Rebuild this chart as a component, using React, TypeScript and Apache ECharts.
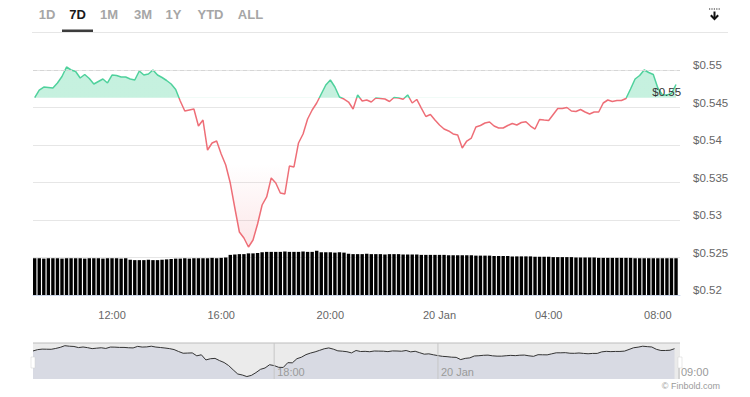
import React, { useEffect, useRef } from 'react';
import * as echarts from 'echarts';

// ---------- data ----------
const START = Date.UTC(2025, 0, 19, 9, 10); // first point, 19 Jan 09:10
const STEP_MIN = 10;

const prices = [
  0.54631, 0.54733, 0.54773, 0.54767, 0.5476, 0.54827, 0.54913, 0.5504, 0.55, 0.5498,
  0.54893, 0.5494, 0.54887, 0.54813, 0.54847, 0.5488, 0.54827, 0.54933, 0.54927, 0.54907,
  0.54907, 0.5488, 0.54867, 0.54987, 0.54933, 0.54947, 0.55, 0.54933, 0.549, 0.5486,
  0.54813, 0.5474, 0.54587, 0.54453, 0.54467, 0.5448, 0.54253, 0.54333, 0.53933, 0.54027,
  0.54053, 0.5388, 0.53733, 0.53493, 0.5316, 0.5284, 0.5276, 0.5264, 0.52733, 0.52947,
  0.532, 0.53307, 0.5356, 0.53493, 0.5336, 0.53347, 0.5372, 0.53707, 0.54027, 0.54147,
  0.54347, 0.54467, 0.5456, 0.5468, 0.548, 0.54867, 0.54773, 0.5464, 0.54613, 0.54573,
  0.5448, 0.54667, 0.54587, 0.546, 0.54573, 0.54627, 0.5462, 0.54613, 0.5458, 0.54633,
  0.54627, 0.54609, 0.54667, 0.5456, 0.54607, 0.54493, 0.5438, 0.54407, 0.54333, 0.54267,
  0.54213, 0.54187, 0.54147, 0.54133, 0.5396, 0.54053, 0.54093, 0.5424, 0.5426, 0.54293,
  0.54307, 0.54253, 0.54227, 0.54227, 0.5426, 0.54287, 0.54267, 0.543, 0.54311, 0.54253,
  0.54213, 0.5434, 0.54333, 0.54327, 0.54407, 0.54487, 0.54487, 0.545, 0.54453, 0.54447,
  0.54473, 0.5444, 0.54413, 0.5444, 0.5444, 0.5456, 0.546, 0.5458, 0.54593, 0.54593,
  0.5462, 0.54747, 0.5488, 0.54927, 0.55, 0.54967, 0.5494, 0.5476, 0.54667, 0.54667,
  0.54687, 0.54807,
];

const volumes = [
  98, 98, 97, 98, 98, 98, 97, 98, 98, 98, 98, 97, 98, 98, 98, 97, 98, 98, 98, 97, 98,
  94, 93, 93, 93, 94, 93, 93, 94, 95,
  96, 97, 97, 98, 97, 98, 98,
  98, 98, 99, 98, 99, 100,
  107, 108, 109, 109,
  111, 111, 112,
  114, 115, 115, 115, 115, 116, 115, 115,
  115, 116, 115, 115,
  118,
  114, 114, 114, 113, 114, 113,
  110, 109, 109, 109, 110, 109, 109, 109, 108, 109, 109, 109,
  108, 108, 108, 108, 107, 107, 107, 107, 107, 107, 106, 106, 106, 106, 106, 106, 105, 105, 105, 105,
  104, 104, 104, 104, 103, 103, 103, 103, 103, 102, 102, 102, 102, 101, 101, 101, 101, 101, 100, 100,
  100, 100, 100, 99, 99, 99, 99, 99, 99, 99, 99, 98, 98, 98, 98, 98, 98, 98, 98, 98, 98,
];

const baseline = 0.5463; // previous close threshold
const tabs = ['1D', '7D', '1M', '3M', '1Y', 'YTD', 'ALL'];
const selectedTab = '7D';
const navLabels = [
  { time: Date.UTC(2025, 0, 19, 18, 0), text: '18:00' },
  { time: Date.UTC(2025, 0, 20, 0, 0), text: '20 Jan' },
];
const navEndLabel = '09:00';
const copyright = '© Finbold.com';

// ---------- layout / style ----------
const FONT = '"Liberation Sans", Arial, Helvetica, sans-serif';
const GREEN = '#4fd19c';
const RED = '#ee6e77';
const tabCenters = [47, 77.5, 109, 143, 173.5, 210.5, 250.5];

export default function App() {
  const ref = useRef<HTMLDivElement>(null);

  useEffect(() => {
    const chart = echarts.init(ref.current!, null, { renderer: 'svg' });
    const MIN = 60000;
    const H = 3600000;
    const times = prices.map((_, i) => START + i * STEP_MIN * MIN);
    const priceData = times.map((t, i) => [t, prices[i]]);
    const volData = times.map((t, i) => [t, volumes[i]]);

    const mainMin = START;
    const mainMax = START + 1415 * MIN;
    const navMin = START;
    const navMax = START + 1422 * MIN;

    const yMin = 0.52;
    const yMax = 0.555;
    const gridTop = 32.5;
    const gridH = 262.5;
    const baseFrac = (yMax - baseline) / (yMax - yMin);
    const fadeFrac = (yMax - 0.5375) / (yMax - yMin);

    const areaGrad = new echarts.graphic.LinearGradient(
      0, gridTop, 0, gridTop + gridH,
      [
        { offset: 0, color: 'rgba(82,212,158,0.33)' },
        { offset: baseFrac, color: 'rgba(82,212,158,0.33)' },
        { offset: baseFrac, color: 'rgba(238,110,119,0)' },
        { offset: fadeFrac, color: 'rgba(238,110,119,0)' },
        { offset: 1, color: 'rgba(238,110,119,0.26)' },
      ],
      true
    );

    const pad = (n: number) => (n < 10 ? '0' + n : '' + n);
    const months = ['Jan', 'Feb', 'Mar', 'Apr', 'May', 'Jun', 'Jul', 'Aug', 'Sep', 'Oct', 'Nov', 'Dec'];
    const fmtTime = (v: number) => {
      const d = new Date(v);
      const h = d.getUTCHours();
      if (h === 0 && d.getUTCMinutes() === 0) return d.getUTCDate() + ' ' + months[d.getUTCMonth()];
      return pad(h) + ':' + pad(d.getUTCMinutes());
    };

    chart.setOption({
      animation: false,
      useUTC: true,
      textStyle: { fontFamily: FONT },
      grid: [
        { left: 33, right: 70, top: gridTop, height: gridH, outerBoundsMode: 'none' },
        {
          left: 33, right: 70, top: 343, height: 36, show: true,
          backgroundColor: '#ebebeb', borderWidth: 0, outerBoundsMode: 'none',
        },
      ],
      xAxis: [
        {
          type: 'time', gridIndex: 0, min: mainMin, max: mainMax,
          minInterval: 4 * H, maxInterval: 4 * H,
          axisLine: { show: true, lineStyle: { color: '#ccd6eb' } },
          axisTick: { show: false },
          splitLine: { show: false },
          axisLabel: { color: '#666', fontSize: 11, margin: 14, formatter: fmtTime, hideOverlap: false },
        },
        { type: 'time', gridIndex: 1, min: navMin, max: navMax, show: false },
      ],
      yAxis: [
        {
          type: 'value', gridIndex: 0, position: 'right', min: yMin, max: yMax, interval: 0.005,
          axisLine: { show: false }, axisTick: { show: false },
          splitLine: { lineStyle: { color: '#e6e6e6' } },
          axisLabel: {
            showMaxLabel: false, margin: 13, color: '#666', fontSize: 11.5,
            verticalAlign: 'bottom', lineHeight: 10,
            formatter: (v: number) => '$' + parseFloat(v.toFixed(3)),
          },
        },
        { type: 'value', gridIndex: 0, min: 0, max: 700, show: false },
        { type: 'value', gridIndex: 1, min: 0.5245, max: 0.5525, show: false },
      ],
      visualMap: {
        type: 'piecewise', show: false, seriesIndex: 1, dimension: 1,
        pieces: [
          { gte: 0, lte: baseline, color: RED },
          { gt: baseline, lte: 1, color: GREEN },
        ],
        outOfRange: { color: RED },
      },
      series: [
        {
          type: 'bar', xAxisIndex: 0, yAxisIndex: 1, data: volData,
          barWidth: 3.4, itemStyle: { color: '#000' }, z: 1, silent: true,
        },
        {
          type: 'line', xAxisIndex: 0, yAxisIndex: 0, data: priceData,
          showSymbol: false, z: 3,
          lineStyle: { width: 1.5 },
          areaStyle: { origin: baseline, color: areaGrad, opacity: 1 },
          markLine: {
            silent: true, symbol: 'none', label: { show: false },
            lineStyle: { type: [4, 3], color: '#d6d6d6', width: 1 },
            data: [{ yAxis: baseline }],
          },
          endLabel: {
            show: true,
            formatter: (p: any) => '$' + p.value[1].toFixed(2),
            color: '#333', fontSize: 11.5, align: 'right', distance: 5, offset: [0, 8],
          },
        },
        {
          type: 'line', xAxisIndex: 1, yAxisIndex: 2, data: priceData,
          showSymbol: false, silent: true,
          lineStyle: { color: '#333', width: 1 }, itemStyle: { color: '#333' },
          areaStyle: { color: '#d8dae3', opacity: 1, origin: 'start' },
        },
      ],
    });

    // decorations positioned through the library's scales
    const navL = chart.convertToPixel({ xAxisIndex: 1 }, navMin) as number;
    const navR = chart.convertToPixel({ xAxisIndex: 1 }, navMax) as number;
    const navT = 343;
    const navB = 379;
    const g: any[] = [];

    // tabs
    tabs.forEach((t, i) => {
      const sel = t === selectedTab;
      g.push({
        type: 'text', z: 10,
        style: {
          text: t, x: tabCenters[i], y: 14.5, align: 'center', verticalAlign: 'middle',
          fill: sel ? '#1a1a1a' : '#a6a6a6', font: 'bold 13px ' + FONT,
        },
      });
      if (sel) {
        g.push({ type: 'rect', z: 10, shape: { x: tabCenters[i] - 15.5, y: 29.5, width: 31, height: 2.5 }, style: { fill: '#3c3c3c' } });
      }
    });
    g.push({ type: 'line', z: 9, shape: { x1: 32, y1: 32.5, x2: 728, y2: 32.5 }, style: { stroke: '#e6e6e6', lineWidth: 1 } });

    // download icon
    g.push({ type: 'line', z: 10, shape: { x1: 709, y1: 9, x2: 720, y2: 9 }, style: { stroke: '#222', lineWidth: 1.2, lineDash: [1.2, 1.2] } });
    g.push({ type: 'line', z: 10, shape: { x1: 714.5, y1: 11.5, x2: 714.5, y2: 19 }, style: { stroke: '#111', lineWidth: 2 } });
    g.push({ type: 'polyline', z: 10, shape: { points: [[710.8, 15.2], [714.5, 19], [718.2, 15.2]] }, style: { stroke: '#111', lineWidth: 2, fill: 'none' } });

    // navigator
    g.push({ type: 'line', z: 10, shape: { x1: navL, y1: navT, x2: navR, y2: navT }, style: { stroke: '#bdbdbd', lineWidth: 1 } });
    navLabels.forEach((l) => {
      const x = chart.convertToPixel({ xAxisIndex: 1 }, l.time) as number;
      g.push({ type: 'line', z: 10, shape: { x1: x, y1: navT, x2: x, y2: navB }, style: { stroke: '#c6c6c6', lineWidth: 1 } });
      g.push({
        type: 'text', z: 10,
        style: { text: l.text, x: x + 3, y: 372, align: 'left', verticalAlign: 'middle', fill: '#9a9a9a', font: '11px ' + FONT },
      });
    });
    g.push({ type: 'line', z: 10, shape: { x1: navR - 1, y1: 366, x2: navR - 1, y2: navB }, style: { stroke: '#bdbdbd', lineWidth: 1 } });
    g.push({
      type: 'text', z: 10,
      style: { text: navEndLabel, x: navR + 1, y: 372, align: 'left', verticalAlign: 'middle', fill: '#9a9a9a', font: '11px ' + FONT },
    });
    [navL, navR].forEach((x) => {
      g.push({ type: 'rect', z: 11, shape: { x: x - 2, y: 357, width: 4, height: 11 }, style: { fill: '#ffffff', stroke: '#d0d0d0', lineWidth: 0.5 } });
    });
    g.push({
      type: 'text', z: 10,
      style: { text: copyright, x: 720, y: 386, align: 'right', verticalAlign: 'middle', fill: '#9a9a9a', font: '9px ' + FONT },
    });

    chart.setOption({ graphic: g });

    return () => chart.dispose();
  }, []);

  return (
    <div
      ref={ref}
      style={{ position: 'absolute', left: 0, top: 0, width: 750, height: 397, background: '#fff' }}
    />
  );
}
